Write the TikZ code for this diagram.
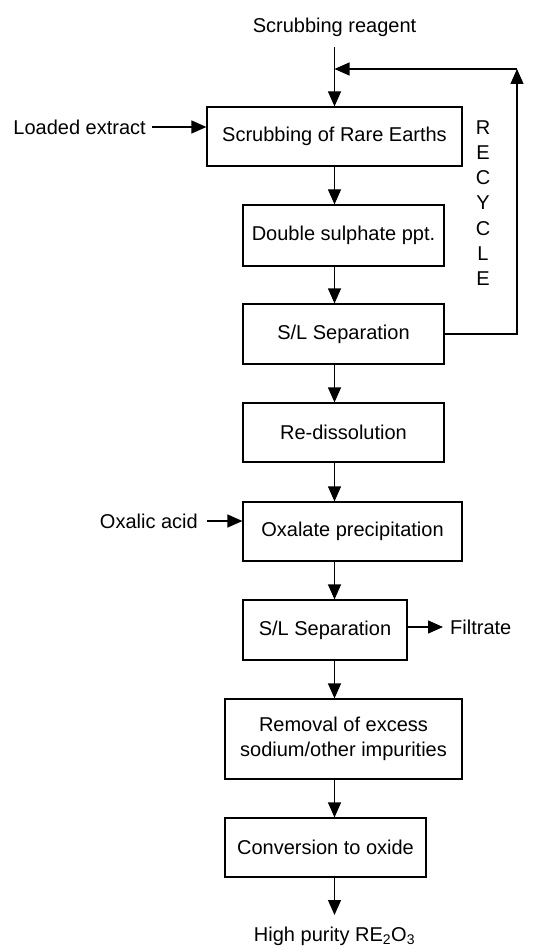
\documentclass[tikz,border=0pt]{standalone}
\usepackage{fontspec}
\setmainfont{Liberation Sans}
\usetikzlibrary{arrows.meta}
\begin{document}
\begin{tikzpicture}[x=1pt,y=-1pt,
  box/.style={draw, line width=1.2pt, inner sep=0pt, align=center, font=\fontsize{20}{25}\selectfont},
  lbl/.style={inner sep=0pt, font=\fontsize{20}{25}\selectfont},
  arr/.style={-{Triangle[length=15pt,width=13pt]}, line width=1.2pt},
  ln/.style={line width=1.2pt}]
\useasboundingbox (0,0) rectangle (552,949);
% boxes
\node[box, minimum width=255pt, minimum height=59pt] (b1) at (334.5,136.5) {Scrubbing of Rare Earths};
\node[box, minimum width=201pt, minimum height=61pt] (b2) at (343.5,235.5) {Double sulphate ppt.};
\node[box, minimum width=201pt, minimum height=60pt] (b3) at (343.5,334) {S/L Separation};
\node[box, minimum width=201pt, minimum height=59pt] (b4) at (343.5,432.5) {Re-dissolution};
\node[box, minimum width=219pt, minimum height=59pt] (b5) at (352.5,531.5) {Oxalate precipitation};
\node[box, minimum width=164pt, minimum height=60pt] (b6) at (325,630) {S/L Separation};
\node[box, minimum width=237pt, minimum height=80pt] (b7) at (343.5,739) {Removal of excess\\sodium/other impurities};
\node[box, minimum width=201pt, minimum height=59pt] (b8) at (325.5,847.5) {Conversion to oxide};
% labels
\node[lbl] (reag) at (334.5,27) {Scrubbing reagent};
\node[lbl, anchor=east] (load) at (146,127) {Loaded extract};
\node[lbl, anchor=east] (oxa) at (198,521) {Oxalic acid};
\node[lbl, anchor=west] (fil) at (450,627) {Filtrate};
\node[lbl] (out) at (334.5,936) {High purity RE\textsubscript{2}O\textsubscript{3}};
\node[lbl, align=center, font=\fontsize{20}{25.2}\selectfont] (rec) at (483,203) {R\\E\\C\\Y\\C\\L\\E};
% coordinates
\coordinate (sp) at (334.5,0);
\coordinate (rtop) at (334.5,47);
\coordinate (jn) at (334.5,69);
\coordinate (rc) at (517,69);
\coordinate (outtip) at (334.5,915);
% connectors
\draw[arr] (rtop) -- (b1.north -| sp);
\draw[arr] (b3.east) -| (rc);
\draw[arr] (rc) -- (jn);
\draw[arr] ([xshift=6pt]load.east) -- (b1.west |- load.east);
\draw[arr] (b1.south -| sp) -- (b2.north -| sp);
\draw[arr] (b2.south -| sp) -- (b3.north -| sp);
\draw[arr] (b3.south -| sp) -- (b4.north -| sp);
\draw[arr] (b4.south -| sp) -- (b5.north -| sp);
\draw[arr] ([xshift=9pt]oxa.east) -- (b5.west |- oxa.east);
\draw[arr] (b5.south -| sp) -- (b6.north -| sp);
\draw[arr] (b6.east |- fil.west) -- ([xshift=-7pt]fil.west);
\draw[arr] (b6.south -| sp) -- (b7.north -| sp);
\draw[arr] (b7.south -| sp) -- (b8.north -| sp);
\draw[arr] (b8.south -| sp) -- (outtip);
\end{tikzpicture}
\end{document}
